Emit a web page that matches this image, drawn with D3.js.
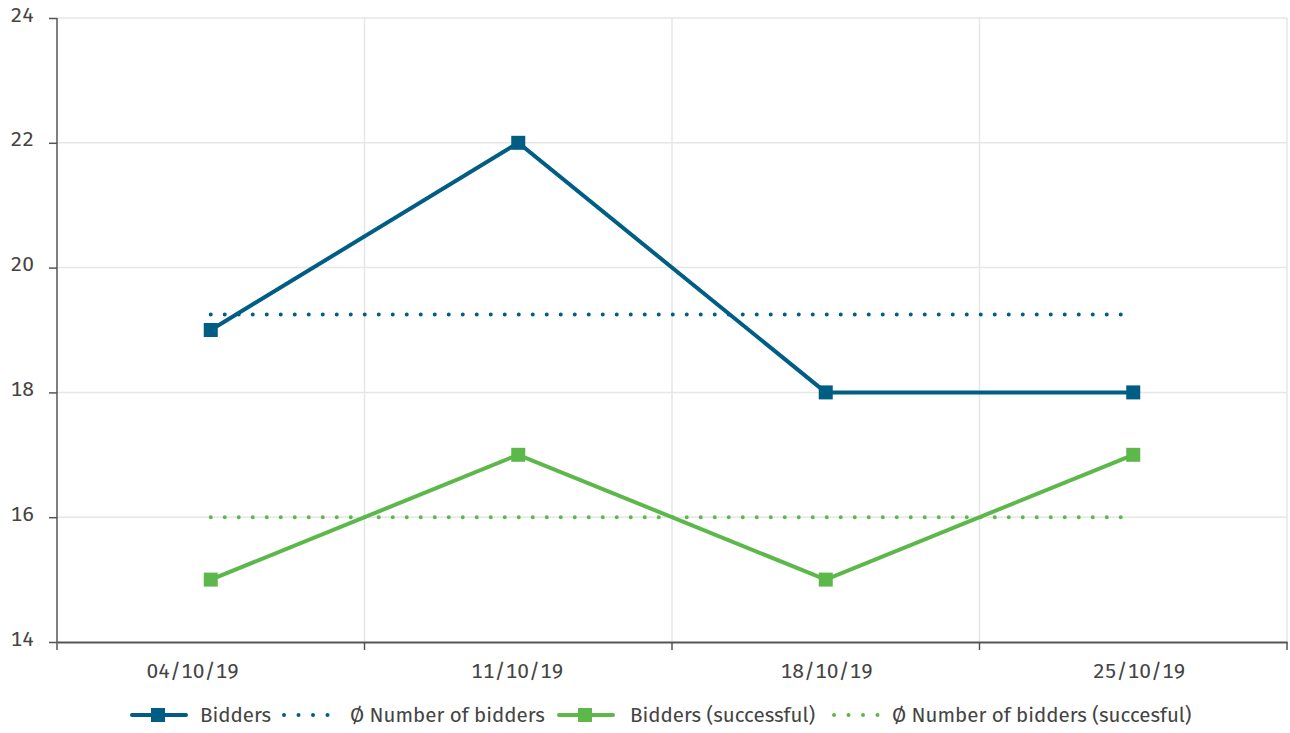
<!DOCTYPE html>
<html>
<head>
<meta charset="utf-8">
<script src="https://cdn.jsdelivr.net/npm/d3@7"></script>
<style>
  body { margin: 0; background: #fff; }
  text { font-family: "Fira Sans", "Open Sans", sans-serif; fill: #444; font-variant-numeric: tabular-nums; }
</style>
</head>
<body>
<svg width="1290" height="733"></svg>
<script>
let dates = ["04/10/19", "11/10/19", "18/10/19", "25/10/19"];
let bidders = [19, 22, 18, 18];
let biddersSuccessful = [15, 17, 15, 17];
let yTicks = [14, 16, 18, 20, 22, 24];
let legendLabels = ["Bidders", "Ø Number of bidders", "Bidders (successful)", "Ø Number of bidders (succesful)"];

let blue = "#005e85", green = "#5cb84a";

let svg = d3.select("svg"),
    margin = {top: 18, right: 3, bottom: 91, left: 57},
    width = svg.attr("width") - margin.left - margin.right,
    height = svg.attr("height") - margin.top - margin.bottom,
    g = svg.append("g").attr("transform", "translate(" + margin.left + "," + margin.top + ")");

let x = d3.scaleBand().domain(dates).range([0, width]),
    y = d3.scaleLinear().domain([14, 24]).range([height, 0]);

let cx = function(d) { return x(d) + x.bandwidth() / 2; };

// grid
g.selectAll(".hgrid").data(yTicks.slice(1)).enter().append("line")
    .attr("x1", 0).attr("x2", width)
    .attr("y1", d => y(d)).attr("y2", d => y(d))
    .attr("stroke", "#e6e6e6").attr("stroke-width", 1.5);
g.selectAll(".vgrid").data(dates.slice(1).concat(["end"])).enter().append("line")
    .attr("x1", d => d === "end" ? width : x(d)).attr("x2", d => d === "end" ? width : x(d))
    .attr("y1", 0).attr("y2", height)
    .attr("stroke", "#e6e6e6").attr("stroke-width", 1.5);

// axes
let yAxis = g.append("g")
    .call(d3.axisLeft(y).tickValues(yTicks).tickSize(8).tickPadding(15));
yAxis.select(".domain").attr("stroke", "#555").attr("stroke-width", 1.5).attr("d", "M0," + height + "V0");
yAxis.selectAll(".tick line").attr("stroke", "#555").attr("stroke-width", 1.5);
yAxis.selectAll("text").style("font-size", "21px").attr("fill", "#444").attr("dy", "0.15em");

let xAxis = g.append("g")
    .attr("transform", "translate(0," + height + ")")
    .call(d3.axisBottom(x).tickSize(0).tickPadding(21));
xAxis.select(".domain").attr("stroke", "#555").attr("stroke-width", 2);
xAxis.selectAll("text").style("font-size", "21px").attr("fill", "#444").attr("dy", "0.71em")
    .attr("dx", (d, i) => [-18, -1, 1, 6][i]);
xAxis.selectAll(".bticks").data(dates.concat(["end"])).enter().append("line")
    .attr("x1", d => d === "end" ? width : x(d)).attr("x2", d => d === "end" ? width : x(d))
    .attr("y1", 0).attr("y2", 8)
    .attr("stroke", "#555").attr("stroke-width", 1.5);

let line = d3.line()
    .x(function(d) { return cx(d.date); })
    .y(function(d) { return y(d.v); });

function drawSeries(values, color) {
    let pts = dates.map(function(d, i) { return {date: d, v: values[i]}; });
    let mean = d3.mean(values);
    g.append("line")
        .attr("x1", cx(dates[0])).attr("x2", cx(dates[dates.length - 1]))
        .attr("y1", y(mean)).attr("y2", y(mean))
        .attr("stroke", color).attr("stroke-width", 4)
        .attr("stroke-linecap", "round").attr("stroke-dasharray", "0,14");
    g.append("path").datum(pts)
        .attr("d", line)
        .attr("fill", "none").attr("stroke", color).attr("stroke-width", 4);
    g.selectAll(null).data(pts).enter().append("rect")
        .attr("x", d => cx(d.date) - 7).attr("y", d => y(d.v) - 7)
        .attr("width", 14).attr("height", 14)
        .attr("fill", color);
}
drawSeries(bidders, blue);
drawSeries(biddersSuccessful, green);

// legend
let legend = svg.append("g").attr("transform", "translate(0,715)");
let items = [
    {type: "line", color: blue, x: 130, tx: 200, label: legendLabels[0]},
    {type: "dots", color: blue, x: 284, tx: 350, label: legendLabels[1]},
    {type: "line", color: green, x: 557, tx: 630, label: legendLabels[2]},
    {type: "dots", color: green, x: 834, tx: 892, label: legendLabels[3]}
];
items.forEach(function(it) {
    let gi = legend.append("g");
    if (it.type === "line") {
        gi.append("line").attr("x1", it.x + 2).attr("x2", it.x + 56).attr("y1", 0).attr("y2", 0)
            .attr("stroke", it.color).attr("stroke-width", 4).attr("stroke-linecap", "round");
        gi.append("rect").attr("x", it.x + 21).attr("y", -7).attr("width", 14).attr("height", 14).attr("fill", it.color);
    } else {
        gi.append("line").attr("x1", it.x).attr("x2", it.x + 45).attr("y1", 0).attr("y2", 0)
            .attr("stroke", it.color).attr("stroke-width", 4)
            .attr("stroke-linecap", "round").attr("stroke-dasharray", "0,14.5");
    }
    gi.append("text").attr("x", it.tx).attr("dy", "0.35em").style("font-size", "20.5px").text(it.label);
});
</script>
</body>
</html>
